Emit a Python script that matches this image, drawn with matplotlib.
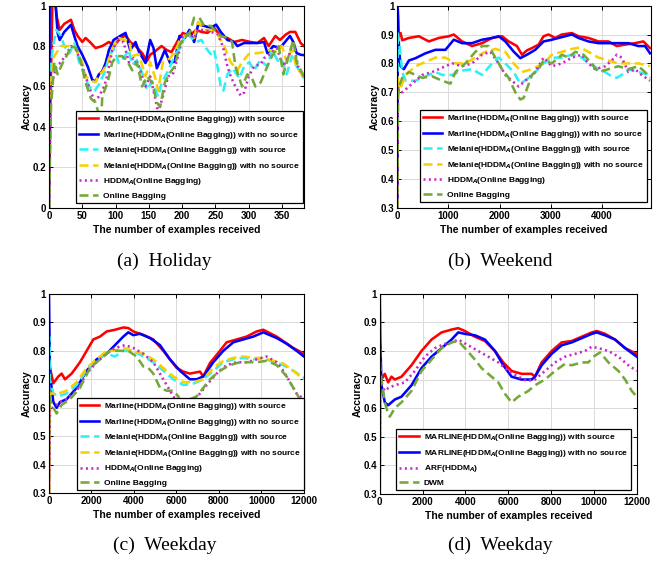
import matplotlib
matplotlib.use('Agg')
import matplotlib.pyplot as plt

plt.rcParams['font.family'] = 'Liberation Sans'
plt.rcParams['font.weight'] = 'bold'
plt.rcParams['mathtext.fontset'] = 'custom'
plt.rcParams['mathtext.rm'] = 'Liberation Sans:bold'
plt.rcParams['mathtext.bf'] = 'Liberation Sans:bold'

# ---- (a) Holiday ----
hol_red_x = [0, 2, 5, 10, 12, 16, 23, 33, 38, 43, 50, 55, 63, 70, 80, 90, 97, 105, 115, 122,
             130, 140, 147, 152, 159, 169, 177, 184, 194, 201, 211, 221, 229, 238, 248, 258, 268, 278, 290, 303,
             313, 323, 330, 340, 347, 355, 362, 370, 378, 383]
hol_red_y = [0, 0.5, 1.0, 1.0, 0.94, 0.88, 0.91, 0.93, 0.88, 0.85, 0.82, 0.84, 0.815, 0.79, 0.80, 0.82, 0.80, 0.83, 0.855, 0.82,
             0.80, 0.765, 0.725, 0.757, 0.773, 0.80, 0.78, 0.77, 0.83, 0.865, 0.85, 0.88, 0.87, 0.865, 0.89, 0.85, 0.84, 0.82, 0.83, 0.82,
             0.815, 0.84, 0.80, 0.85, 0.83, 0.855, 0.87, 0.87, 0.815, 0.80]
hol_blue_x = [0, 1, 10, 13, 16, 23, 33, 38, 43, 50, 58, 65, 70, 75, 80, 85, 90, 97, 107, 115,
              122, 130, 135, 145, 152, 157, 162, 169, 174, 182, 189, 196, 204, 211, 218, 224, 233, 243, 251, 258,
              268, 278, 283, 293, 313, 323, 328, 337, 347, 357, 362, 367, 372, 378, 383]
hol_blue_y = [0, 1.0, 1.0, 0.865, 0.83, 0.87, 0.905, 0.85, 0.80, 0.757, 0.70, 0.633, 0.625, 0.66, 0.675, 0.715, 0.78, 0.83, 0.85, 0.865,
              0.78, 0.82, 0.773, 0.716, 0.83, 0.79, 0.69, 0.74, 0.78, 0.716, 0.724, 0.85, 0.84, 0.88, 0.82, 0.906, 0.90, 0.89, 0.906, 0.87,
              0.83, 0.82, 0.80, 0.815, 0.815, 0.82, 0.765, 0.80, 0.79, 0.83, 0.85, 0.82, 0.765, 0.757, 0.755]
hol_cyan_x = [0, 1, 3, 6, 11, 18, 23, 31, 38, 45, 53, 60, 68, 75, 83, 90, 97, 105, 112, 120,
              125, 132, 142, 147, 155, 159, 164, 169, 177, 184, 191, 199, 206, 214, 221, 229, 236, 243, 248, 253,
              258, 262, 268, 276, 286, 293, 301, 308, 317, 328, 335, 345, 350, 357, 365, 372, 383]
hol_cyan_y = [0, 0.6, 0.7, 0.80, 0.88, 0.85, 0.80, 0.765, 0.82, 0.724, 0.66, 0.60, 0.575, 0.61, 0.666, 0.74, 0.79, 0.716, 0.74, 0.78,
              0.707, 0.73, 0.65, 0.583, 0.625, 0.59, 0.55, 0.617, 0.666, 0.716, 0.765, 0.80, 0.87, 0.84, 0.82, 0.83, 0.79, 0.76, 0.78, 0.70,
              0.60, 0.58, 0.66, 0.69, 0.64, 0.70, 0.72, 0.68, 0.73, 0.70, 0.78, 0.72, 0.73, 0.66, 0.75, 0.70, 0.64]
hol_yellow_x = [0, 2, 8, 18, 28, 38, 45, 50, 55, 63, 70, 75, 80, 85, 90, 97, 105, 112, 120, 125,
                135, 145, 152, 159, 164, 171, 182, 191, 196, 209, 218, 224, 233, 243, 253, 263, 273, 278, 283, 290,
                300, 313, 323, 332, 342, 350, 357, 364, 372, 383]
hol_yellow_y = [0, 0.6, 0.75, 0.80, 0.80, 0.80, 0.75, 0.72, 0.65, 0.63, 0.62, 0.66, 0.67, 0.70, 0.73, 0.80, 0.84, 0.83, 0.83, 0.75,
                0.76, 0.65, 0.72, 0.65, 0.58, 0.72, 0.74, 0.78, 0.83, 0.86, 0.84, 0.92, 0.88, 0.88, 0.86, 0.80, 0.72, 0.70, 0.68, 0.72,
                0.76, 0.765, 0.77, 0.78, 0.77, 0.80, 0.72, 0.78, 0.70, 0.64]
hol_mag_x = [0, 3, 11, 18, 26, 33, 41, 48, 55, 60, 68, 75, 83, 88, 95, 102, 112, 120, 127, 135,
             145, 152, 159, 164, 171, 179, 186, 194, 201, 211, 218, 224, 233, 243, 253, 261, 268, 273, 280, 288,
             293, 300, 308, 318, 323, 332, 342, 352, 360, 367, 374, 383]
hol_mag_y = [0, 0.6, 0.70, 0.72, 0.76, 0.80, 0.78, 0.72, 0.65, 0.60, 0.53, 0.55, 0.60, 0.66, 0.78, 0.82, 0.82, 0.72, 0.74, 0.70,
             0.60, 0.65, 0.55, 0.47, 0.55, 0.65, 0.66, 0.75, 0.85, 0.86, 0.84, 0.88, 0.88, 0.87, 0.86, 0.80, 0.70, 0.65, 0.60, 0.555,
             0.57, 0.65, 0.70, 0.71, 0.74, 0.76, 0.79, 0.70, 0.75, 0.82, 0.70, 0.65]
hol_green_x = [0, 3, 8, 13, 21, 28, 33, 41, 48, 55, 63, 70, 75, 78, 80, 88, 95, 102, 110, 117,
               125, 132, 140, 147, 155, 162, 167, 174, 182, 189, 196, 204, 211, 218, 226, 233, 243, 251, 258, 268,
               275, 280, 285, 290, 298, 305, 310, 318, 328, 335, 345, 352, 360, 367, 372, 383]
hol_green_y = [0, 0.5, 0.72, 0.66, 0.72, 0.76, 0.80, 0.79, 0.72, 0.62, 0.54, 0.52, 0.46, 0.40, 0.55, 0.62, 0.72, 0.75, 0.75, 0.73,
               0.68, 0.72, 0.60, 0.65, 0.62, 0.52, 0.50, 0.62, 0.67, 0.70, 0.80, 0.85, 0.86, 0.94, 0.94, 0.90, 0.90, 0.87, 0.85, 0.84,
               0.82, 0.70, 0.65, 0.60, 0.66, 0.64, 0.60, 0.62, 0.70, 0.75, 0.80, 0.66, 0.75, 0.83, 0.72, 0.65]

# ---- (b) Weekend ----
wke_red_x = [0, 10, 65, 98, 228, 423, 618, 813, 1008, 1106, 1268, 1463, 1659, 1854, 2049, 2179, 2341, 2439, 2537, 2634,
             2764, 2862, 2959, 3089, 3220, 3415, 3545, 3740, 3935, 4130, 4293, 4455, 4650, 4813, 4943]
wke_red_y = [0.3, 0.9, 0.905, 0.88, 0.888, 0.894, 0.876, 0.888, 0.894, 0.90, 0.876, 0.86, 0.87, 0.888, 0.894, 0.876, 0.86, 0.83, 0.845, 0.853,
             0.865, 0.894, 0.90, 0.888, 0.90, 0.905, 0.894, 0.888, 0.876, 0.876, 0.86, 0.865, 0.87, 0.876, 0.853]
wke_blue_x = [0, 8, 20, 33, 65, 130, 228, 358, 553, 748, 943, 1106, 1268, 1463, 1659, 1854, 1984, 2114, 2276, 2406,
              2537, 2699, 2862, 3024, 3154, 3285, 3415, 3545, 3740, 3935, 4130, 4325, 4520, 4715, 4846, 4943]
wke_blue_y = [0.3, 1.0, 0.95, 0.86, 0.79, 0.78, 0.81, 0.818, 0.835, 0.847, 0.847, 0.882, 0.87, 0.87, 0.882, 0.888, 0.894, 0.876, 0.841, 0.818,
              0.83, 0.847, 0.876, 0.882, 0.888, 0.894, 0.90, 0.888, 0.876, 0.87, 0.87, 0.87, 0.87, 0.86, 0.86, 0.835]
wke_cyan_x = [0, 10, 33, 98, 163, 358, 553, 748, 878, 1073, 1268, 1463, 1659, 1854, 1984, 2114, 2276, 2406, 2537, 2699,
              2862, 3024, 3220, 3415, 3610, 3740, 3935, 4065, 4195, 4293, 4390, 4520, 4715, 4943]
wke_cyan_y = [0.3, 0.91, 0.88, 0.77, 0.74, 0.74, 0.755, 0.77, 0.76, 0.76, 0.775, 0.78, 0.76, 0.80, 0.82, 0.80, 0.77, 0.73, 0.745, 0.77,
              0.80, 0.82, 0.82, 0.83, 0.82, 0.80, 0.78, 0.77, 0.755, 0.75, 0.76, 0.78, 0.77, 0.76]
wke_yellow_x = [0, 15, 33, 163, 358, 553, 748, 943, 1138, 1333, 1528, 1724, 1919, 2114, 2276, 2439, 2634, 2862, 3024, 3220,
                3415, 3577, 3740, 3935, 4130, 4325, 4520, 4715, 4943]
wke_yellow_y = [0.3, 0.75, 0.70, 0.76, 0.79, 0.805, 0.82, 0.82, 0.80, 0.80, 0.82, 0.84, 0.85, 0.84, 0.80, 0.77, 0.78, 0.80, 0.83, 0.84,
                0.85, 0.855, 0.84, 0.82, 0.81, 0.80, 0.80, 0.80, 0.79]
wke_mag_x = [0, 15, 33, 98, 293, 488, 683, 878, 1073, 1268, 1463, 1659, 1821, 1984, 2114, 2244, 2374, 2504, 2699, 2862,
             3024, 3220, 3415, 3610, 3740, 3870, 4065, 4195, 4293, 4390, 4520, 4650, 4780, 4943]
wke_mag_y = [0.3, 0.72, 0.70, 0.70, 0.73, 0.76, 0.77, 0.785, 0.80, 0.79, 0.80, 0.83, 0.84, 0.80, 0.76, 0.74, 0.72, 0.74, 0.77, 0.82,
             0.79, 0.80, 0.82, 0.83, 0.80, 0.78, 0.79, 0.81, 0.83, 0.82, 0.77, 0.78, 0.76, 0.74]
wke_green_x = [0, 15, 33, 98, 228, 358, 488, 683, 878, 1041, 1138, 1333, 1528, 1659, 1789, 1919, 2049, 2179, 2309, 2406,
               2471, 2634, 2764, 2862, 3024, 3220, 3350, 3480, 3642, 3805, 3935, 4130, 4325, 4520, 4715, 4846, 4943]
wke_green_y = [0.3, 0.68, 0.72, 0.75, 0.77, 0.76, 0.75, 0.755, 0.74, 0.73, 0.77, 0.80, 0.84, 0.86, 0.86, 0.82, 0.78, 0.75, 0.70, 0.675,
               0.68, 0.76, 0.78, 0.81, 0.80, 0.83, 0.82, 0.84, 0.83, 0.80, 0.77, 0.78, 0.79, 0.78, 0.79, 0.77, 0.75]

# ---- (c) Weekday ----
wkc_red_x = [0, 20, 47, 204, 440, 596, 753, 1067, 1459, 1773, 2086, 2400, 2714, 3106, 3498, 3733, 3969, 4439, 4910, 5380,
             5694, 6008, 6322, 6635, 7106, 7263, 7576, 8047, 8361, 8831, 9302, 9773, 10086, 10243, 10714, 11184, 11498, 12000]
wkc_red_y = [0.3, 0.75, 0.74, 0.686, 0.71, 0.72, 0.70, 0.72, 0.76, 0.80, 0.84, 0.85, 0.868, 0.874, 0.882, 0.88, 0.868, 0.856, 0.84, 0.80,
             0.77, 0.74, 0.727, 0.72, 0.727, 0.71, 0.757, 0.80, 0.83, 0.84, 0.85, 0.868, 0.874, 0.868, 0.85, 0.826, 0.81, 0.79]
wkc_blue_x = [0, 15, 47, 204, 361, 518, 831, 1302, 1773, 2243, 2714, 3106, 3498, 3733, 3969, 4282, 4753, 5224, 5694, 6165,
              6635, 6949, 7263, 7733, 8204, 8675, 9145, 9616, 10086, 10243, 10714, 11184, 11655, 12000]
wkc_blue_y = [1.0, 0.9, 0.72, 0.62, 0.60, 0.62, 0.63, 0.67, 0.73, 0.77, 0.79, 0.82, 0.85, 0.865, 0.855, 0.86, 0.845, 0.82, 0.77, 0.73,
              0.70, 0.70, 0.71, 0.76, 0.80, 0.83, 0.84, 0.85, 0.865, 0.86, 0.845, 0.825, 0.80, 0.78]
wkc_cyan_x = [0, 10, 47, 204, 440, 831, 1302, 1773, 2243, 2714, 3106, 3498, 3969, 4439, 4910, 5380, 5851, 6322, 6792, 7263,
              7733, 8204, 8675, 9145, 9616, 10086, 10557, 11027, 11498, 12000]
wkc_cyan_y = [0.6, 0.85, 0.70, 0.65, 0.64, 0.65, 0.68, 0.73, 0.77, 0.79, 0.78, 0.80, 0.80, 0.78, 0.76, 0.73, 0.70, 0.68, 0.685, 0.70,
              0.73, 0.76, 0.77, 0.775, 0.77, 0.775, 0.76, 0.75, 0.73, 0.705]
wkc_yellow_x = [0, 20, 47, 440, 831, 1302, 1773, 2243, 2714, 3106, 3498, 3969, 4439, 4910, 5380, 5851, 6322, 6792, 7263, 7733,
                8204, 8675, 9145, 9616, 10086, 10557, 11027, 11498, 12000]
wkc_yellow_y = [0.3, 0.62, 0.65, 0.65, 0.66, 0.69, 0.74, 0.77, 0.80, 0.80, 0.81, 0.80, 0.79, 0.77, 0.74, 0.71, 0.69, 0.69, 0.70, 0.74,
                0.765, 0.775, 0.78, 0.775, 0.775, 0.765, 0.755, 0.73, 0.70]
wkc_mag_x = [0, 20, 47, 204, 518, 831, 1302, 1773, 2243, 2714, 3106, 3576, 3969, 4439, 4910, 5224, 5537, 5851, 6165, 6478,
             6792, 7106, 7420, 7890, 8361, 8831, 9302, 9773, 10243, 10714, 11027, 11341, 11655, 12000]
wkc_mag_y = [0.34, 0.40, 0.60, 0.60, 0.62, 0.63, 0.66, 0.72, 0.76, 0.79, 0.81, 0.82, 0.81, 0.79, 0.76, 0.72, 0.68, 0.64, 0.61, 0.62,
             0.63, 0.65, 0.68, 0.72, 0.75, 0.76, 0.76, 0.77, 0.78, 0.76, 0.73, 0.69, 0.65, 0.63]
wkc_green_x = [0, 20, 47, 204, 361, 596, 988, 1459, 1929, 2400, 2871, 3341, 3733, 4125, 4439, 4675, 4910, 5224, 5537, 5851,
               6086, 6322, 6635, 6949, 7263, 7576, 8047, 8518, 8988, 9459, 9773, 10243, 10714, 11184, 11498, 11812, 12000]
wkc_green_y = [0.3, 0.64, 0.63, 0.60, 0.58, 0.61, 0.63, 0.67, 0.74, 0.77, 0.80, 0.80, 0.80, 0.78, 0.745, 0.74, 0.72, 0.67, 0.66, 0.66,
               0.64, 0.60, 0.63, 0.64, 0.67, 0.70, 0.73, 0.75, 0.76, 0.76, 0.76, 0.765, 0.75, 0.71, 0.67, 0.63, 0.61]

# ---- (d) Weekday, baselines ----
wkd_red_x = [0, 20, 78, 234, 390, 545, 701, 1013, 1480, 1948, 2416, 2883, 3351, 3662, 3974, 4442, 4909, 5377, 5766, 6156,
             6623, 7091, 7247, 7558, 8026, 8494, 8961, 9429, 9896, 10130, 10519, 10987, 11455, 12000]
wkd_red_y = [0.3, 0.74, 0.70, 0.72, 0.69, 0.71, 0.70, 0.71, 0.75, 0.80, 0.84, 0.865, 0.875, 0.88, 0.87, 0.85, 0.835, 0.80, 0.76, 0.73,
             0.72, 0.72, 0.71, 0.76, 0.80, 0.83, 0.835, 0.85, 0.865, 0.87, 0.86, 0.84, 0.81, 0.79]
wkd_blue_x = [0, 20, 78, 234, 390, 701, 1013, 1480, 1948, 2416, 2883, 3351, 3662, 3974, 4442, 4909, 5377, 5766, 6156, 6623,
              7091, 7247, 7558, 8026, 8494, 8961, 9429, 9896, 10130, 10519, 10987, 11455, 12000]
wkd_blue_y = [1.0, 0.85, 0.68, 0.62, 0.61, 0.63, 0.64, 0.68, 0.74, 0.78, 0.81, 0.84, 0.865, 0.86, 0.855, 0.84, 0.80, 0.75, 0.71, 0.70,
              0.70, 0.71, 0.75, 0.79, 0.82, 0.83, 0.845, 0.86, 0.865, 0.855, 0.84, 0.81, 0.78]
wkd_mag_x = [0, 15, 78, 234, 390, 701, 1169, 1636, 2104, 2572, 3039, 3351, 3662, 4130, 4597, 5065, 5532, 6000, 6468, 6857,
             7247, 7714, 8182, 8649, 9117, 9584, 9896, 10208, 10675, 11143, 11610, 12000]
wkd_mag_y = [0.3, 0.70, 0.68, 0.66, 0.67, 0.68, 0.69, 0.73, 0.78, 0.81, 0.825, 0.83, 0.84, 0.82, 0.80, 0.78, 0.76, 0.73, 0.71, 0.695,
             0.70, 0.73, 0.76, 0.78, 0.79, 0.80, 0.815, 0.81, 0.80, 0.78, 0.75, 0.73]
wkd_green_x = [0, 15, 78, 234, 390, 467, 701, 1013, 1480, 1948, 2416, 2883, 3351, 3662, 3974, 4442, 4753, 5065, 5532, 5844,
               6156, 6468, 6935, 7247, 7714, 8182, 8649, 8961, 9429, 9740, 9974, 10286, 10675, 11143, 11455, 11766, 12000]
wkd_green_y = [1.0, 0.75, 0.70, 0.62, 0.58, 0.57, 0.60, 0.62, 0.66, 0.73, 0.77, 0.81, 0.83, 0.835, 0.81, 0.77, 0.74, 0.72, 0.69, 0.65,
               0.62, 0.64, 0.66, 0.68, 0.70, 0.73, 0.755, 0.75, 0.76, 0.76, 0.78, 0.795, 0.76, 0.73, 0.70, 0.66, 0.64]

LAB6 = [r'Marline(HDDM$_{A}$(Online Bagging)) with source',
        r'Marline(HDDM$_{A}$(Online Bagging)) with no source',
        r'Melanie(HDDM$_{A}$(Online Bagging)) with source',
        r'Melanie(HDDM$_{A}$(Online Bagging)) with no source',
        r'HDDM$_{A}$(Online Bagging)',
        'Online Bagging']
LAB4 = [r'MARLINE(HDDM$_{A}$(Online Bagging)) with source',
        r'MARLINE(HDDM$_{A}$(Online Bagging)) with no source',
        r'ARF(HDDM$_{A}$)',
        'DWM']

RED = dict(color='#ff0000', ls='-')
BLUE = dict(color='#0000ff', ls='-')
CYAN = dict(color='#2ef0f5', ls=(0, (3.5, 1.8)))
YELLOW = dict(color='#f7d000', ls=(0, (3.5, 1.8)))
MAG = dict(color='#c828c8', ls=(0, (0.8, 1.3)))
GREEN = dict(color='#74a838', ls=(0, (3.5, 1.8)))
LW = 1.85


def panel(ax, series, labels, xlim, xticks, ylim, yticks, anchor):
    for (x, y, st), lab in zip(series, labels):
        ax.plot(x, y, lw=LW, label=lab, **st)
    ax.set_xlim(*xlim); ax.set_ylim(*ylim)
    ax.set_xticks(xticks); ax.set_yticks(yticks)
    ax.set_yticklabels([f'{v:g}' for v in yticks])
    ax.grid(True, color='#dadada', lw=0.7)
    ax.set_axisbelow(True)
    ax.tick_params(direction='in', top=True, right=True, length=3, width=0.7,
                   labelsize=7, pad=2)
    for s in ax.spines.values():
        s.set_linewidth(0.8)
    ax.set_xlabel('The number of examples received', fontsize=7.5, fontweight='bold', labelpad=3)
    ax.set_ylabel('Accuracy', fontsize=7.5, fontweight='bold', labelpad=0.5)
    leg = ax.legend(loc='lower right', bbox_to_anchor=anchor, fontsize=6, frameon=True,
                    fancybox=False, framealpha=1, edgecolor='black', borderpad=0.35,
                    labelspacing=0.55, handlelength=2.3, handletextpad=0.6, borderaxespad=0)
    leg.get_frame().set_linewidth(0.9)
    for t in leg.get_texts():
        t.set_fontweight('bold')


fig = plt.figure(figsize=(6.71, 5.63), dpi=100)
ax_a = fig.add_axes([0.073, 0.631, 0.380, 0.359])
ax_b = fig.add_axes([0.592, 0.631, 0.378, 0.359])
ax_c = fig.add_axes([0.073, 0.124, 0.380, 0.354])
ax_d = fig.add_axes([0.566, 0.123, 0.383, 0.355])

panel(ax_a, [(hol_red_x, hol_red_y, RED), (hol_blue_x, hol_blue_y, BLUE),
             (hol_cyan_x, hol_cyan_y, CYAN), (hol_yellow_x, hol_yellow_y, YELLOW),
             (hol_mag_x, hol_mag_y, MAG), (hol_green_x, hol_green_y, GREEN)], LAB6,
      (0, 383), range(0, 351, 50), (0, 1), [0, 0.2, 0.4, 0.6, 0.8, 1], (0.995, 0.025))
panel(ax_b, [(wke_red_x, wke_red_y, RED), (wke_blue_x, wke_blue_y, BLUE),
             (wke_cyan_x, wke_cyan_y, CYAN), (wke_yellow_x, wke_yellow_y, YELLOW),
             (wke_mag_x, wke_mag_y, MAG), (wke_green_x, wke_green_y, GREEN)], LAB6,
      (0, 4960), range(0, 4001, 1000), (0.3, 1), [0.3, 0.4, 0.5, 0.6, 0.7, 0.8, 0.9, 1], (0.985, 0.03))
panel(ax_c, [(wkc_red_x, wkc_red_y, RED), (wkc_blue_x, wkc_blue_y, BLUE),
             (wkc_cyan_x, wkc_cyan_y, CYAN), (wkc_yellow_x, wkc_yellow_y, YELLOW),
             (wkc_mag_x, wkc_mag_y, MAG), (wkc_green_x, wkc_green_y, GREEN)], LAB6,
      (0, 12000), range(0, 12001, 2000), (0.3, 1), [0.3, 0.4, 0.5, 0.6, 0.7, 0.8, 0.9, 1], (1.0, 0.017))
panel(ax_d, [(wkd_red_x, wkd_red_y, RED), (wkd_blue_x, wkd_blue_y, BLUE),
             (wkd_mag_x, wkd_mag_y, MAG), (wkd_green_x, wkd_green_y, GREEN)], LAB4,
      (0, 12000), range(0, 12001, 2000), (0.3, 1), [0.3, 0.4, 0.5, 0.6, 0.7, 0.8, 0.9, 1], (0.977, 0.02))

for x, y, txt in [(0.245, 0.535, '(a)  Holiday'), (0.745, 0.535, '(b)  Weekend'),
                  (0.245, 0.032, '(c)  Weekday'), (0.745, 0.032, '(d)  Weekday')]:
    fig.text(x, y, txt, ha='center', va='center', fontsize=14, family='Liberation Serif',
             fontweight='normal')

fig.savefig('out.png', dpi=100)
